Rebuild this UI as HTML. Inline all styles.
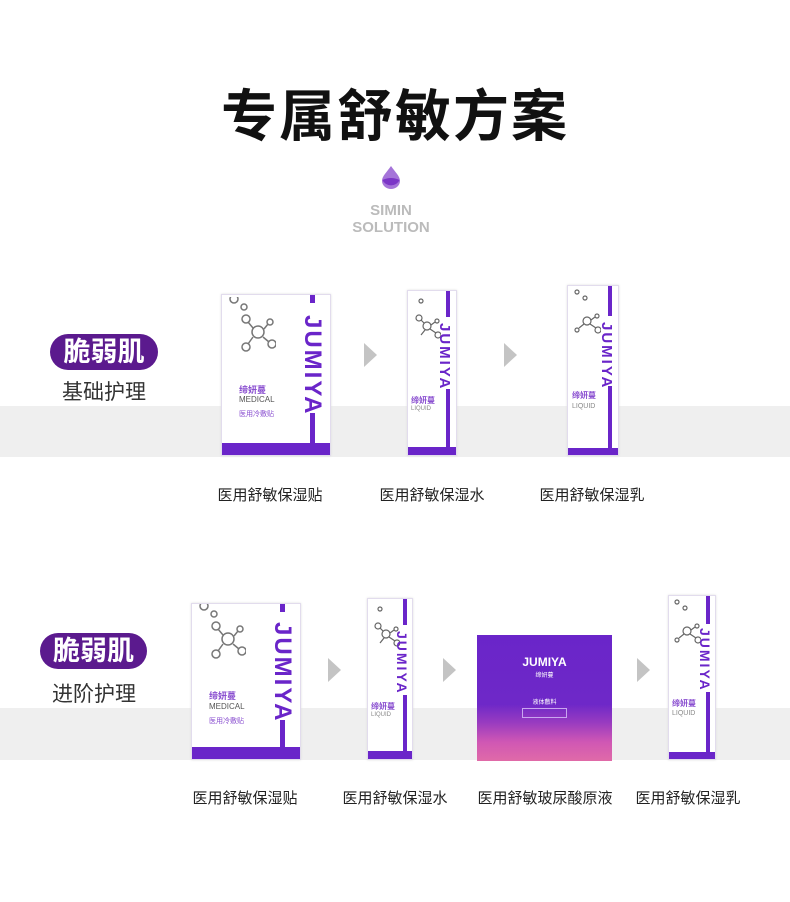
<!DOCTYPE html>
<html><head><meta charset="utf-8"><style>
*{margin:0;padding:0;box-sizing:border-box}
body{width:790px;height:902px;background:#fff;position:relative;overflow:hidden;font-family:"Liberation Sans","Noto Sans CJK SC",sans-serif}
.a{position:absolute}
.band{position:absolute;left:0;width:790px;background:#efefef}
.pill{position:absolute;background:#5b1a8e;color:#fff;border-radius:18px;font-size:27px;font-weight:bold;text-align:center;line-height:36px}
.sub{position:absolute;font-size:21px;color:#333}
.lbl{position:absolute;font-size:15px;color:#222;width:160px;text-align:center;margin-left:-80px}
.arr{position:absolute;width:0;height:0;border-top:12px solid transparent;border-bottom:12px solid transparent;border-left:13px solid #c4c4c4}
.prod{position:absolute;background:#fff;border:1px solid #e2dced;box-shadow:0 0 2px #ddd;overflow:hidden}
.prod .bar{position:absolute;bottom:0;left:0;right:0;background:#6a25c9}
.prod .v{position:absolute;background:#6a25c9}
.prod .jm{position:absolute;color:#6a25c9;font-weight:bold;writing-mode:vertical-rl;text-orientation:sideways;letter-spacing:2px}
.prod .s{position:absolute;color:#8a4fd0;font-size:7px}
.prod .g{position:absolute;color:#888;font-size:6px}
</style></head><body>
<div class="band" style="top:406px;height:51px"></div>
<div class="band" style="top:708px;height:52px"></div>

<div class="a" style="left:0;width:790px;top:72px;text-align:center;font-size:56px;font-weight:bold;color:#111;letter-spacing:2px;font-family:'Noto Sans CJK SC',sans-serif">专属舒敏方案</div>
<svg class="a" style="left:381px;top:165px" width="20" height="24" viewBox="0 0 20 24"><path d="M10 1 C6 7 1 11 1 16 A9 8 0 0 0 19 16 C19 11 14 7 10 1Z" fill="#a574d9"/><path d="M1.5 15 Q10 11 18.5 15 A9 8 0 0 1 1.5 15Z" fill="#7b35c7"/></svg>
<div class="a" style="left:0;width:782px;top:202px;text-align:center;font-size:15px;font-weight:bold;color:#bbb;line-height:17px">SIMIN<br>SOLUTION</div>

<div class="pill" style="left:50px;top:334px;width:108px">脆弱肌</div>
<div class="sub" style="left:62px;top:376px">基础护理</div>
<div class="pill" style="left:40px;top:633px;width:107px">脆弱肌</div>
<div class="sub" style="left:52px;top:678px">进阶护理</div>

<!-- row1 -->
<div class="prod" style="left:221px;top:294px;width:110px;height:162px">
 <svg class="a" style="left:4px;top:2px" width="50" height="60"><g fill="none" stroke="#777" stroke-width="1.5"><circle cx="8" cy="2" r="4"/><circle cx="18" cy="10" r="3"/><circle cx="32" cy="35" r="6"/><circle cx="20" cy="22" r="4"/><circle cx="44" cy="25" r="3"/><circle cx="20" cy="50" r="4"/><circle cx="46" cy="47" r="4"/><path d="M27 31L22 25M38 32L42 27M27 40L22 47M37 40L43 45"/></g></svg>
 <div class="jm" style="left:76px;top:20px;font-size:24px">JUMIYA</div>
 <div class="v" style="left:88px;top:0;width:5px;height:8px"></div>
 <div class="v" style="left:88px;top:118px;width:5px;height:30px"></div>
 <div class="s" style="left:17px;top:88px;font-size:9px;font-weight:bold">缔妍蔓</div>
 <div class="g" style="left:17px;top:100px;font-size:8px;color:#555">MEDICAL</div>
 <div class="s" style="left:17px;top:114px">医用冷敷贴</div>
 <div class="bar" style="height:12px"></div>
</div>
<div class="prod" style="left:407px;top:290px;width:50px;height:166px">
 <svg class="a" style="left:3px;top:2px" width="30" height="48"><g fill="none" stroke="#666" stroke-width="1.2"><circle cx="10" cy="8" r="2"/><circle cx="8" cy="25" r="3"/><circle cx="16" cy="33" r="4"/><circle cx="26" cy="28" r="2"/><circle cx="27" cy="42" r="3"/><path d="M10 27L13 30M20 32L24 29M19 36L25 40M14 37L10 42"/></g></svg>
 <div class="jm" style="left:28px;top:32px;font-size:15px">JUMIYA</div>
 <div class="v" style="left:38px;top:0;width:4px;height:26px"></div>
 <div class="v" style="left:38px;top:98px;width:4px;height:60px"></div>
 <div class="s" style="left:3px;top:104px;font-size:8px;font-weight:bold">缔妍蔓</div>
 <div class="g" style="left:3px;top:115px">LIQUID</div>
 <div class="bar" style="height:8px"></div>
</div>
<div class="prod" style="left:567px;top:285px;width:52px;height:171px">
 <svg class="a" style="left:3px;top:2px" width="30" height="48"><g fill="none" stroke="#666" stroke-width="1.2"><circle cx="6" cy="4" r="2"/><circle cx="14" cy="10" r="2"/><circle cx="16" cy="33" r="4"/><circle cx="26" cy="28" r="2"/><circle cx="27" cy="42" r="3"/><circle cx="6" cy="42" r="2"/><path d="M20 32L24 29M19 36L25 40M13 36L8 40"/></g></svg>
 <div class="jm" style="left:30px;top:36px;font-size:15px">JUMIYA</div>
 <div class="v" style="left:40px;top:0;width:4px;height:30px"></div>
 <div class="v" style="left:40px;top:100px;width:4px;height:64px"></div>
 <div class="s" style="left:4px;top:104px;font-size:8px;font-weight:bold">缔妍蔓</div>
 <div class="g" style="left:4px;top:117px;font-size:7px">LIQUID</div>
 <div class="bar" style="height:7px"></div>
</div>
<div class="arr" style="left:364px;top:343px"></div>
<div class="arr" style="left:504px;top:343px"></div>
<div class="lbl" style="left:270px;top:484px">医用舒敏保湿贴</div>
<div class="lbl" style="left:432px;top:484px">医用舒敏保湿水</div>
<div class="lbl" style="left:592px;top:484px">医用舒敏保湿乳</div>

<!-- row2 -->
<div class="prod" style="left:191px;top:603px;width:110px;height:157px">
 <svg class="a" style="left:4px;top:0" width="50" height="60"><g fill="none" stroke="#777" stroke-width="1.5"><circle cx="8" cy="2" r="4"/><circle cx="18" cy="10" r="3"/><circle cx="32" cy="35" r="6"/><circle cx="20" cy="22" r="4"/><circle cx="44" cy="25" r="3"/><circle cx="20" cy="50" r="4"/><circle cx="46" cy="47" r="4"/><path d="M27 31L22 25M38 32L42 27M27 40L22 47M37 40L43 45"/></g></svg>
 <div class="jm" style="left:76px;top:18px;font-size:24px">JUMIYA</div>
 <div class="v" style="left:88px;top:0;width:5px;height:8px"></div>
 <div class="v" style="left:88px;top:116px;width:5px;height:30px"></div>
 <div class="s" style="left:17px;top:85px;font-size:9px;font-weight:bold">缔妍蔓</div>
 <div class="g" style="left:17px;top:98px;font-size:8px;color:#555">MEDICAL</div>
 <div class="s" style="left:17px;top:112px">医用冷敷贴</div>
 <div class="bar" style="height:12px"></div>
</div>
<div class="prod" style="left:367px;top:598px;width:46px;height:162px">
 <svg class="a" style="left:2px;top:2px" width="30" height="48"><g fill="none" stroke="#666" stroke-width="1.2"><circle cx="10" cy="8" r="2"/><circle cx="8" cy="25" r="3"/><circle cx="16" cy="33" r="4"/><circle cx="26" cy="28" r="2"/><circle cx="27" cy="42" r="3"/><path d="M10 27L13 30M20 32L24 29M19 36L25 40M14 37L10 42"/></g></svg>
 <div class="jm" style="left:26px;top:32px;font-size:14px">JUMIYA</div>
 <div class="v" style="left:35px;top:0;width:4px;height:26px"></div>
 <div class="v" style="left:35px;top:96px;width:4px;height:60px"></div>
 <div class="s" style="left:3px;top:102px;font-size:8px;font-weight:bold">缔妍蔓</div>
 <div class="g" style="left:3px;top:113px">LIQUID</div>
 <div class="bar" style="height:8px"></div>
</div>
<div class="a" style="left:477px;top:635px;width:135px;height:126px;background:linear-gradient(180deg,#6a25c9 0%,#6e28c8 55%,#9a3cc0 70%,#d057b4 85%,#e06aa8 100%);overflow:hidden">
 <div class="a" style="left:0;width:135px;top:20px;text-align:center;color:#fff;font-size:12px;font-weight:bold">JUMIYA</div>
 <div class="a" style="left:0;width:135px;top:35px;text-align:center;color:#fff;font-size:6px">缔妍蔓</div>
 <div class="a" style="left:0;width:135px;top:62px;text-align:center;color:#fff;font-size:6px">液体敷料</div>
 <div class="a" style="left:45px;top:73px;width:45px;height:10px;border:1px solid #c9a6f0"></div>
</div>
<div class="prod" style="left:668px;top:595px;width:48px;height:165px">
 <svg class="a" style="left:2px;top:2px" width="30" height="48"><g fill="none" stroke="#666" stroke-width="1.2"><circle cx="6" cy="4" r="2"/><circle cx="14" cy="10" r="2"/><circle cx="16" cy="33" r="4"/><circle cx="26" cy="28" r="2"/><circle cx="27" cy="42" r="3"/><circle cx="6" cy="42" r="2"/><path d="M20 32L24 29M19 36L25 40M13 36L8 40"/></g></svg>
 <div class="jm" style="left:28px;top:32px;font-size:14px">JUMIYA</div>
 <div class="v" style="left:37px;top:0;width:4px;height:28px"></div>
 <div class="v" style="left:37px;top:96px;width:4px;height:62px"></div>
 <div class="s" style="left:3px;top:102px;font-size:8px;font-weight:bold">缔妍蔓</div>
 <div class="g" style="left:3px;top:114px;font-size:7px">LIQUID</div>
 <div class="bar" style="height:7px"></div>
</div>
<div class="arr" style="left:328px;top:658px"></div>
<div class="arr" style="left:443px;top:658px"></div>
<div class="arr" style="left:637px;top:658px"></div>
<div class="lbl" style="left:245px;top:787px">医用舒敏保湿贴</div>
<div class="lbl" style="left:395px;top:787px">医用舒敏保湿水</div>
<div class="lbl" style="left:545px;top:787px">医用舒敏玻尿酸原液</div>
<div class="lbl" style="left:688px;top:787px">医用舒敏保湿乳</div>
</body></html>
